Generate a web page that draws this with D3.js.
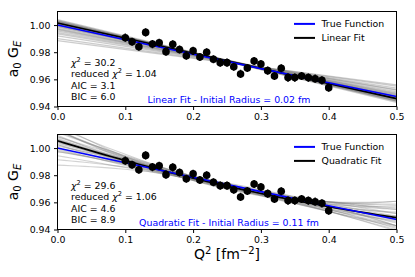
<!DOCTYPE html>
<html>
<head>
<meta charset="utf-8">
<script src="https://cdn.jsdelivr.net/npm/d3@7"></script>
<style>
  body { margin: 0; background: #fff; }
  svg { display: block; font-family: "DejaVu Sans", sans-serif; }
</style>
</head>
<body>
<div id="chart"></div>
<script>
// measured form factor points (same set in both panels)
const q2 = [0.10, 0.11, 0.12, 0.13, 0.14, 0.15, 0.16, 0.17, 0.18, 0.19, 0.20,
            0.21, 0.22, 0.23, 0.24, 0.25, 0.26, 0.27, 0.28, 0.29, 0.30,
            0.31, 0.32, 0.33, 0.34, 0.35, 0.36, 0.37, 0.38, 0.39, 0.40];
const ge = [0.9907, 0.9877, 0.9840, 0.9946, 0.9860, 0.9870, 0.9804, 0.9858, 0.9820, 0.9774, 0.9810,
            0.9765, 0.9800, 0.9748, 0.9723, 0.9723, 0.9693, 0.9640, 0.9684, 0.9735, 0.9713,
            0.9664, 0.9625, 0.9682, 0.9613, 0.9613, 0.9625, 0.9613, 0.9605, 0.9593, 0.9539];
const pointErr = 0.003;

// true function (dipole) sampled
const trueQ2 = [0, 0.1, 0.2, 0.3, 0.4, 0.5];
const trueGE = [1.0, 0.98913, 0.97844, 0.96792, 0.95756, 0.94738];

// linear fit: value at Q2 = 0 and Q2 = 0.5
const linearFit = [1.0015, 0.9458];
const linearBoot = [
  [1.0040, 0.9440], [1.0030, 0.9445], [1.0025, 0.9455], [1.0020, 0.9450], [1.0010, 0.9465],
  [1.0005, 0.9460], [1.0000, 0.9475], [0.9990, 0.9480], [0.9985, 0.9490], [0.9975, 0.9495],
  [0.9965, 0.9500], [0.9955, 0.9510], [0.9945, 0.9520], [0.9935, 0.9525], [0.9920, 0.9535],
  [0.9900, 0.9550], [0.9885, 0.9560], [1.0035, 0.9430], [1.0020, 0.9440], [1.0015, 0.9470],
  [0.9995, 0.9470], [0.9970, 0.9485], [1.0025, 0.9448], [1.0010, 0.9458], [1.0020, 0.9462],
  [1.0008, 0.9470], [1.0028, 0.9442], [1.0003, 0.9466]
];

// quadratic fit coefficients a + b Q2 + c Q2^2
const quadFit = [1.0054, -0.154, 0.0816];
const quadBoot = [
  [1.0074, -0.1841, 0.1578], [1.0034, -0.1239, 0.0054], [1.0134, -0.2191, 0.1959],
  [0.9974, -0.0889, -0.0327], [1.0024, -0.1530, 0.1197], [1.0084, -0.1550, 0.0435],
  [1.0134, -0.2302, 0.2340], [0.9974, -0.0778, -0.0708], [0.9994, -0.1300, 0.0816],
  [1.0114, -0.1780, 0.0816], [1.0124, -0.1986, 0.1387], [0.9984, -0.1094, 0.0245],
  [1.0064, -0.1856, 0.1768], [1.0044, -0.1224, -0.0136], [1.0044, -0.1555, 0.1006],
  [1.0064, -0.1525, 0.0626], [1.0084, -0.1770, 0.1197], [1.0024, -0.1310, 0.0435],
  [1.0094, -0.2087, 0.2149], [1.0014, -0.0993, -0.0517], [1.0134, -0.2412, 0.2721],
  [0.9914, -0.0428, -0.1089], [1.0154, -0.2161, 0.1578], [0.9944, -0.0879, 0.0054],
  [0.9874, -0.0157, -0.1470], [1.0174, -0.2683, 0.3102]
];

const xTicks = [0.0, 0.1, 0.2, 0.3, 0.4, 0.5];
const yTicks = [0.94, 0.96, 0.98, 1.00];

const fitNames = ["Linear Fit", "Quadratic Fit"];
const chi2 = ["30.2", "29.6"];
const redChi2 = ["1.04", "1.06"];
const aic = ["3.1", "4.6"];
const bic = ["6.0", "8.9"];
const radius = ["0.02", "0.11"];

const width = 415, height = 277;
const plotH = 95;
const panelTops = [11.5, 134.5];
const fontSize = 9.4;

const x = d3.scaleLinear().domain([0, 0.5]).range([57.5, 396.5]);

const svg = d3.select("#chart").append("svg")
              .attr("width", width)
              .attr("height", height);

const poly = (c, q) => c.reduce((s, v, i) => s + v * Math.pow(q, i), 0);
const qSamples = d3.range(0, 0.5001, 0.01);

panelTops.forEach((top, p) => {
  const y = d3.scaleLinear().domain([0.94, 1.01]).range([top + plotH, top]);
  const line = d3.line().x(d => x(d[0])).y(d => y(d[1]));
  const g = svg.append("g");

  g.append("clipPath").attr("id", `clip${p}`)
   .append("rect")
   .attr("x", x(0)).attr("y", top)
   .attr("width", x(0.5) - x(0)).attr("height", plotH);

  const plot = g.append("g").attr("clip-path", `url(#clip${p})`);

  // bootstrap bundle
  const bundle = p === 0
    ? linearBoot.map(b => [[0, b[0]], [0.5, b[1]]])
    : quadBoot.map(c => qSamples.map(q => [q, poly(c, q)]));
  plot.append("g")
      .attr("fill", "none")
      .attr("stroke", "#808080")
      .attr("stroke-opacity", p === 0 ? 0.4 : 0.35)
      .attr("stroke-width", p === 0 ? 1.3 : 1.1)
      .selectAll("path")
      .data(bundle)
      .join("path")
      .attr("d", line);

  // best fit
  const fitPts = p === 0
    ? [[0, linearFit[0]], [0.5, linearFit[1]]]
    : qSamples.map(q => [q, poly(quadFit, q)]);
  plot.append("path")
      .attr("d", line(fitPts))
      .attr("fill", "none")
      .attr("stroke", "#000")
      .attr("stroke-width", 1.7);

  // true function
  plot.append("path")
      .attr("d", line(trueQ2.map((q, i) => [q, trueGE[i]])))
      .attr("fill", "none")
      .attr("stroke", "#0000ff")
      .attr("stroke-width", 1.6);

  // data with error bars
  const pts = plot.append("g").selectAll("g")
                  .data(q2.map((q, i) => [q, ge[i]]))
                  .join("g");
  pts.append("line")
     .attr("x1", d => x(d[0])).attr("x2", d => x(d[0]))
     .attr("y1", d => y(d[1] - pointErr)).attr("y2", d => y(d[1] + pointErr))
     .attr("stroke", "#000").attr("stroke-width", 1.5);
  pts.append("circle")
     .attr("cx", d => x(d[0])).attr("cy", d => y(d[1]))
     .attr("r", 3.8)
     .attr("fill", "#000");

  // frame
  g.append("rect")
   .attr("x", x(0)).attr("y", top)
   .attr("width", x(0.5) - x(0)).attr("height", plotH)
   .attr("fill", "none").attr("stroke", "#000").attr("stroke-width", 1);

  // axes
  const xAxis = g.append("g")
                 .attr("transform", `translate(0,${top + plotH})`)
                 .call(d3.axisBottom(x).tickValues(xTicks).tickFormat(d3.format(".1f"))
                         .tickSize(3.5).tickPadding(3.5).tickSizeOuter(0));
  const yAxis = g.append("g")
                 .attr("transform", `translate(${x(0)},0)`)
                 .call(d3.axisLeft(y).tickValues(yTicks).tickFormat(d3.format(".2f"))
                         .tickSize(3.5).tickPadding(3.5).tickSizeOuter(0));
  [xAxis, yAxis].forEach(a => {
    a.attr("font-family", null).attr("font-size", fontSize);
    a.select(".domain").remove();
  });

  // y label  a0 GE
  const yl = g.append("text")
              .attr("transform", `translate(17.5,${top + plotH / 2}) rotate(-90)`)
              .attr("text-anchor", "middle")
              .attr("font-size", 14);
  yl.append("tspan").text("a");
  yl.append("tspan").attr("dy", 3).attr("font-size", 10).text("0");
  yl.append("tspan").attr("dy", -3).text(" G");
  yl.append("tspan").attr("dy", 3).attr("font-size", 10).attr("font-style", "italic").text("E");

  // fit statistics
  const sx = 71, base = top + plotH;
  const t1 = g.append("text").attr("x", sx).attr("y", base - 40.5).attr("font-size", fontSize);
  t1.append("tspan").attr("font-style", "italic").text("χ");
  t1.append("tspan").attr("dy", -4).attr("font-size", 6.6).text("2");
  t1.append("tspan").attr("dy", 4).text(` = ${chi2[p]}`);
  const t2 = g.append("text").attr("x", sx).attr("y", base - 30).attr("font-size", fontSize);
  t2.append("tspan").text("reduced ");
  t2.append("tspan").attr("font-style", "italic").text("χ");
  t2.append("tspan").attr("dy", -4).attr("font-size", 6.6).text("2");
  t2.append("tspan").attr("dy", 4).text(` = ${redChi2[p]}`);
  g.append("text").attr("x", sx).attr("y", base - 18).attr("font-size", fontSize).text(`AIC = ${aic[p]}`);
  g.append("text").attr("x", sx).attr("y", base - 7).attr("font-size", fontSize).text(`BIC = ${bic[p]}`);

  // blue annotation
  g.append("text")
   .attr("x", 229).attr("y", base - 3.2)
   .attr("text-anchor", "middle")
   .attr("font-size", fontSize)
   .attr("fill", "#0000ff")
   .text(`${fitNames[p]} - Initial Radius = ${radius[p]} fm`);

  // legend
  const legend = [["True Function", "#0000ff"], [fitNames[p], "#000"]];
  legend.forEach((l, i) => {
    const ly = top + 12.4 + i * 14;
    g.append("line")
     .attr("x1", 294).attr("x2", 315).attr("y1", ly).attr("y2", ly)
     .attr("stroke", l[1]).attr("stroke-width", 2);
    g.append("text")
     .attr("x", 321.5).attr("y", ly + 3.4)
     .attr("font-size", fontSize)
     .text(l[0]);
  });
});

// x label  Q2 [fm-2]
const xl = svg.append("text")
              .attr("x", x(0.25)).attr("y", 259)
              .attr("text-anchor", "middle")
              .attr("font-size", 14);
xl.append("tspan").text("Q");
xl.append("tspan").attr("dy", -5).attr("font-size", 10).text("2");
xl.append("tspan").attr("dy", 5).text(" [fm");
xl.append("tspan").attr("dy", -5).attr("font-size", 10).text("−2");
xl.append("tspan").attr("dy", 5).text("]");
</script>
</body>
</html>
